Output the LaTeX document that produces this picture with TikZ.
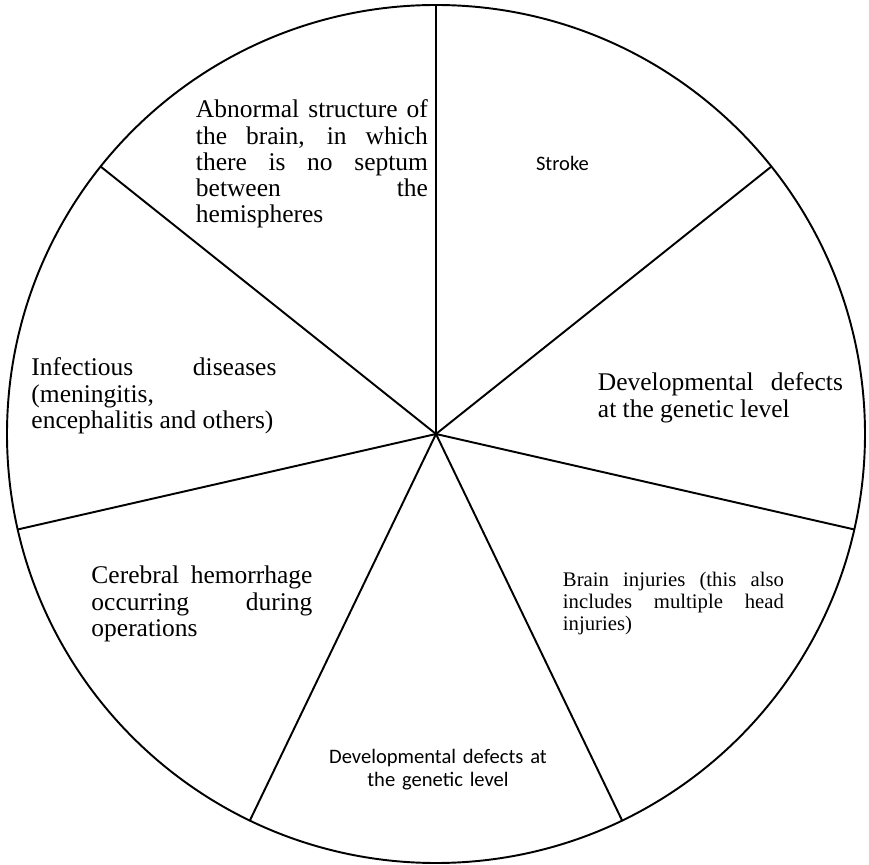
\documentclass[tikz,border=0pt]{standalone}
\usepackage{fontspec}
\setmainfont{Liberation Serif}
\newfontfamily\calibri{Carlito}

\begin{document}
\begin{tikzpicture}[line width=1.1pt,
    big/.style={anchor=base west, inner sep=0pt, align=justify,
                font=\fontsize{14.5}{14.9}\selectfont},
    small/.style={anchor=base west, inner sep=0pt, align=justify,
                font=\fontsize{11.8}{12.4}\selectfont},
    sans/.style={anchor=base, inner sep=0pt, text width=5cm, align=center,
                font=\calibri\fontsize{11.7}{13.1}\selectfont}]
   \useasboundingbox (-8.72,-8.62) rectangle (8.66,8.68);
   \coordinate (c) at (0,0);

   % The wheel: circle and seven spokes
   \draw (c) circle (8.58);
   \foreach \k in {0,...,6}
      \draw (c) -- ({90-\k*360/7}:8.58);

   % Labels, clockwise from the top
   \node[sans] (stroke) at (2.53,5.27) {Stroke};
   \node[big, text width=4.9cm] (genright) at (3.22,0.86)
      {Developmental defects\linebreak at the genetic level};
   \node[small, text width=4.42cm] (injury) at (2.52,-3.05)
      {Brain injuries (this also\linebreak includes multiple head\linebreak injuries)};
   \node[sans] (genbottom) at (0.04,-6.58)
      {Developmental defects at\\ the genetic level};
   \node[big, text width=4.42cm] (bleed) at (-6.91,-3.0)
      {Cerebral hemorrhage\linebreak occurring during\linebreak operations};
   \node[big, text width=4.9cm] (infect) at (-8.11,1.16)
      {Infectious diseases\linebreak (meningitis,\newline encephalitis and others)};
   \node[big, text width=4.64cm] (septum) at (-4.82,6.32)
      {Abnormal structure of\linebreak the brain, in which\linebreak there is no septum\linebreak between the\linebreak hemispheres};
\end{tikzpicture}
\end{document}
